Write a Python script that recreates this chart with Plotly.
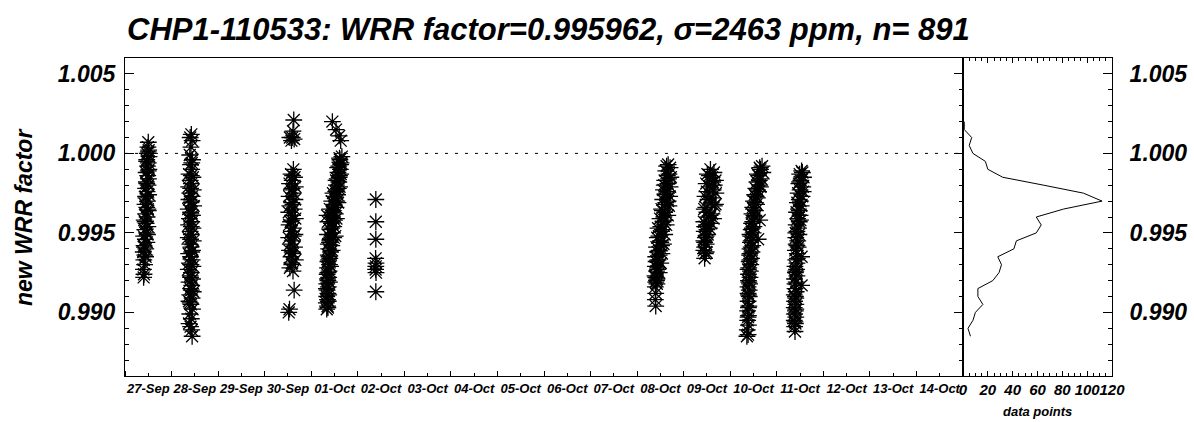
import plotly.graph_objects as go
from datetime import datetime, timedelta

# ---------------- data ----------------
title_text = "CHP1-110533: WRR factor=0.995962, \u03c3=2463 ppm, n= 891"

day_dates = ["2010-09-27", "2010-09-28", "2010-09-30", "2010-10-01", "2010-10-02",
             "2010-10-08", "2010-10-09", "2010-10-10", "2010-10-11"]

# hour of day, WRR factor for each measuring day
sep27_hours = [12.0, 11.8, 12.2, 11.5, 12.4, 11.2, 12.0, 11.6, 12.3, 10.9, 11.7, 12.1, 11.0, 11.9,
               10.6, 11.4, 12.2, 10.8, 11.6, 10.3, 11.2, 12.0, 10.6, 11.4, 9.9, 10.9, 11.8, 10.2,
               11.1, 9.6, 10.5, 11.3, 9.8, 10.7, 9.4, 10.2, 9.7, 10.1, 9.5, 9.8, 9.6,
               12.0, 11.2, 12.0, 11.2, 10.6, 11.8, 10.4, 11.6, 10.0, 10.6]
sep27_values = [1.0007, 1.0004, 1.0002, 1.0000, 0.9998, 0.9996, 0.9994, 0.9992, 0.9990, 0.9988,
                0.9986, 0.9984, 0.9982, 0.9980, 0.9978, 0.9976, 0.9974, 0.9972, 0.9970, 0.9968,
                0.9966, 0.9964, 0.9962, 0.9960, 0.9958, 0.9956, 0.9954, 0.9952, 0.9950, 0.9948,
                0.9946, 0.9944, 0.9942, 0.9940, 0.9938, 0.9936, 0.9933, 0.9930, 0.9927, 0.9924,
                0.9922,
                1.0001, 0.9995, 0.9989, 0.9981, 0.9973, 0.9965, 0.9957, 0.9949, 0.9941, 0.9935]

sep28_hours = [10.2, 9.6, 10.6, 10.0, 9.4, 10.8, 9.8, 10.4, 9.0, 11.0, 9.6, 10.2, 8.8, 11.2, 9.4,
               10.6, 9.0, 10.0, 11.4, 8.6, 9.8, 10.8, 9.2, 10.4, 8.8, 11.0, 9.6, 10.2, 8.6, 11.2,
               9.4, 10.0, 10.8, 8.8, 9.8, 10.6, 9.2, 11.0, 8.6, 10.2, 9.6, 10.8, 9.0, 10.4, 9.8,
               11.2, 9.4, 10.6, 9.0, 10.0, 10.8, 9.4, 10.2, 9.0, 9.8, 10.4, 10.6,
               10.4, 10.2, 9.8, 10.4, 10.0, 10.2, 9.8, 10.4, 10.0, 9.8, 10.2, 9.6]
sep28_values = [1.0012, 1.0010, 1.0008, 1.0004, 0.9999, 0.9996, 0.9993, 0.9990, 0.9987, 0.9985,
                0.9983, 0.9981, 0.9979, 0.9977, 0.9975, 0.9973, 0.9971, 0.9969, 0.9967, 0.9965,
                0.9963, 0.9961, 0.9959, 0.9957, 0.9955, 0.9953, 0.9951, 0.9949, 0.9947, 0.9945,
                0.9943, 0.9941, 0.9939, 0.9937, 0.9935, 0.9933, 0.9931, 0.9929, 0.9927, 0.9925,
                0.9923, 0.9921, 0.9919, 0.9917, 0.9915, 0.9913, 0.9911, 0.9909, 0.9907, 0.9905,
                0.9902, 0.9899, 0.9896, 0.9893, 0.9891, 0.9889, 0.9885,
                0.9994, 0.9986, 0.9978, 0.9970, 0.9962, 0.9954, 0.9946, 0.9938, 0.9930, 0.9922,
                0.9914, 0.9906]

sep30_hours = [15.0, 14.6, 13.0, 14.2, 15.2, 13.8, 14.8, 13.6, 15.4, 14.2, 12.8, 15.8, 13.8, 14.8,
               12.6, 15.6, 14.0, 13.0, 15.2, 12.4, 14.4, 15.8, 13.4, 12.6, 14.8, 13.8, 15.6, 12.4,
               14.2, 13.2, 15.4, 12.8, 14.6, 13.6, 15.8, 14.0, 13.0, 14.6, 15.2, 12.8, 12.4,
               14.4, 14.2, 14.6, 14.0, 14.8, 14.2, 14.0]
sep30_values = [1.0021, 1.0014, 1.0010, 1.0010, 1.0009, 1.0008, 0.9990, 0.9987, 0.9985, 0.9983,
                0.9981, 0.9979, 0.9977, 0.9975, 0.9973, 0.9971, 0.9969, 0.9967, 0.9965, 0.9963,
                0.9961, 0.9959, 0.9957, 0.9955, 0.9953, 0.9951, 0.9949, 0.9947, 0.9945, 0.9943,
                0.9941, 0.9939, 0.9937, 0.9935, 0.9933, 0.9931, 0.9928, 0.9926, 0.9914, 0.9902,
                0.9900,
                0.9986, 0.9978, 0.9968, 0.9958, 0.9948, 0.9938, 0.9930]

oct01_hours = [15.8, 14.8, 15.4, 14.2, 15.0, 13.8, 14.6, 13.4, 14.2, 13.0, 14.0, 12.6, 13.6, 12.4,
               13.2, 11.8, 12.8, 11.4, 12.4, 11.0, 12.0, 10.4, 11.6, 9.8, 11.0, 12.4, 10.2, 9.4,
               10.6, 9.0, 10.0, 8.8, 9.6, 8.6, 9.4, 8.4, 9.2, 8.2, 9.0, 8.6, 8.0, 8.8, 8.2, 8.6,
               8.0, 8.4, 7.8, 8.4, 8.0, 10.9, 12.8, 14.4, 15.2, 8.2, 8.6, 8.4, 9.6, 10.6, 11.2,
               15.2, 14.4, 13.2, 12.0, 10.8, 9.8, 9.0, 8.4,
               14.6, 13.6, 15.2, 12.8, 14.6, 11.8, 13.8, 10.8, 13.0, 10.6, 11.6, 8.8, 10.8, 9.2,
               10.0, 8.6, 9.4, 7.8, 9.0, 8.8, 8.6]
oct01_values = [0.9998, 0.9996, 0.9994, 0.9992, 0.9990, 0.9988, 0.9986, 0.9984, 0.9982, 0.9980,
                0.9978, 0.9976, 0.9974, 0.9972, 0.9970, 0.9968, 0.9966, 0.9964, 0.9962, 0.9960,
                0.9958, 0.9956, 0.9954, 0.9952, 0.9950, 0.9948, 0.9946, 0.9944, 0.9942, 0.9940,
                0.9938, 0.9936, 0.9934, 0.9932, 0.9930, 0.9928, 0.9926, 0.9924, 0.9922, 0.9920,
                0.9918, 0.9916, 0.9914, 0.9912, 0.9910, 0.9908, 0.9906, 0.9904, 0.9902, 1.0020,
                1.0015, 1.0011, 1.0008, 0.9961, 0.9957, 0.9949, 0.9965, 0.9970, 0.9975,
                0.9993, 0.9985, 0.9977, 0.9967, 0.9957, 0.9945, 0.9933, 0.9921,
                0.9997, 0.9991, 0.9987, 0.9983, 0.9979, 0.9973, 0.9969, 0.9963, 0.9959, 0.9953,
                0.9947, 0.9943, 0.9939, 0.9935, 0.9929, 0.9925, 0.9919, 0.9915, 0.9911, 0.9907,
                0.9903]

oct02_hours = [9.3, 9.3, 9.3, 9.2, 9.4, 9.3, 9.2, 9.4, 9.3]
oct02_values = [0.9971, 0.9957, 0.9946, 0.9934, 0.9931, 0.9929, 0.9927, 0.9925, 0.9913]

oct08_hours = [16.0, 17.0, 14.8, 16.4, 17.4, 14.2, 15.8, 17.0, 13.6, 15.2, 16.8, 13.2, 14.8, 16.4,
               12.6, 14.2, 15.8, 11.8, 13.4, 15.0, 10.8, 12.6, 14.2, 10.4, 12.0, 13.6, 10.0, 11.4,
               12.8, 9.6, 10.8, 12.2, 9.4, 10.6, 11.4, 9.2, 10.2, 9.6, 9.4, 9.6, 9.4, 9.6,
               16.2, 15.4, 14.6, 13.8, 13.0, 12.2, 11.4, 10.6, 10.0,
               15.2, 15.6, 14.0, 14.4, 16.0, 13.0, 14.4, 12.2, 11.2, 12.6, 10.6, 9.8, 10.0, 9.6,
               10.2]
oct08_values = [0.9993, 0.9991, 0.9989, 0.9987, 0.9985, 0.9983, 0.9981, 0.9979, 0.9977, 0.9975,
                0.9973, 0.9971, 0.9969, 0.9967, 0.9965, 0.9963, 0.9961, 0.9959, 0.9957, 0.9955,
                0.9953, 0.9951, 0.9949, 0.9947, 0.9945, 0.9943, 0.9941, 0.9939, 0.9937, 0.9935,
                0.9933, 0.9931, 0.9929, 0.9927, 0.9925, 0.9923, 0.9921, 0.9919, 0.9916, 0.9912,
                0.9908, 0.9904,
                0.9984, 0.9976, 0.9968, 0.9960, 0.9952, 0.9944, 0.9936, 0.9928, 0.9920,
                0.9992, 0.9986, 0.9980, 0.9974, 0.9970, 0.9964, 0.9958, 0.9954, 0.9948, 0.9942,
                0.9938, 0.9932, 0.9926, 0.9922, 0.9918]

oct09_hours = [13.8, 15.6, 12.2, 14.6, 16.4, 11.6, 13.2, 15.2, 16.6, 11.0, 12.6, 14.2, 15.8, 10.6,
               12.0, 13.6, 15.4, 10.4, 11.8, 13.2, 10.6, 12.4, 11.2, 10.4, 11.6, 10.8, 10.4, 11.2,
               10.8, 15.8, 16.4, 14.6, 14.2, 12.0,
               13.2, 15.0, 12.0, 14.8, 11.4, 12.8, 10.8, 11.6, 10.8, 11.6]
oct09_values = [0.9990, 0.9988, 0.9987, 0.9985, 0.9983, 0.9981, 0.9979, 0.9977, 0.9975, 0.9973,
                0.9971, 0.9969, 0.9967, 0.9965, 0.9963, 0.9961, 0.9959, 0.9957, 0.9955, 0.9953,
                0.9951, 0.9949, 0.9947, 0.9945, 0.9943, 0.9941, 0.9939, 0.9937, 0.9934, 0.9980,
                0.9968, 0.9962, 0.9956, 0.9952,
                0.9986, 0.9982, 0.9976, 0.9972, 0.9966, 0.9960, 0.9954, 0.9948, 0.9944, 0.9938]

oct10_hours = [16.4, 15.6, 16.8, 14.6, 16.0, 13.8, 15.2, 13.2, 14.6, 12.6, 14.0, 12.0, 13.6, 11.6,
               13.0, 11.2, 12.6, 15.2, 11.0, 12.2, 10.8, 11.8, 10.6, 14.4, 10.4, 11.6, 10.2, 11.2,
               10.0, 11.0, 9.8, 10.6, 9.6, 10.4, 9.4, 10.2, 9.4, 10.0, 9.2, 9.8, 9.2, 9.8, 9.2,
               9.6, 9.0, 9.4, 9.0, 9.4, 8.8, 9.2, 8.6,
               15.0, 14.0, 13.0, 12.2, 11.4, 10.8, 10.2,
               15.2, 14.0, 15.6, 13.2, 12.0, 11.6, 10.2, 10.8, 10.2, 9.2, 9.6, 9.4, 9.4, 9.2]
oct10_values = [0.9992, 0.9990, 0.9988, 0.9986, 0.9984, 0.9982, 0.9980, 0.9978, 0.9976, 0.9974,
                0.9972, 0.9970, 0.9968, 0.9966, 0.9964, 0.9962, 0.9960, 0.9958, 0.9956, 0.9954,
                0.9952, 0.9950, 0.9948, 0.9946, 0.9944, 0.9942, 0.9940, 0.9938, 0.9936, 0.9934,
                0.9932, 0.9930, 0.9928, 0.9926, 0.9924, 0.9922, 0.9920, 0.9918, 0.9916, 0.9914,
                0.9912, 0.9910, 0.9907, 0.9904, 0.9901, 0.9898, 0.9895, 0.9892, 0.9889, 0.9886,
                0.9885,
                0.9983, 0.9977, 0.9969, 0.9961, 0.9953, 0.9945, 0.9937,
                0.9991, 0.9987, 0.9979, 0.9973, 0.9965, 0.9957, 0.9949, 0.9941, 0.9933, 0.9927,
                0.9919, 0.9911, 0.9903, 0.9897]

oct11_hours = [12.8, 11.8, 13.8, 12.4, 11.4, 13.4, 12.0, 11.0, 13.0, 11.6, 10.6, 12.6, 11.2, 10.2,
               12.0, 10.8, 11.6, 10.0, 11.2, 10.4, 11.4, 9.8, 10.8, 10.0, 11.0, 9.6, 10.6, 12.8,
               9.8, 10.4, 9.4, 10.2, 9.6, 10.4, 9.2, 10.0, 12.8, 9.4, 10.0, 9.0, 9.8, 9.2, 9.8,
               9.0, 9.6, 9.2, 9.8, 9.0, 9.6, 9.2, 9.4,
               13.2, 11.8, 13.6, 12.2, 11.6, 12.2, 9.8, 10.4, 10.6, 9.8, 9.4, 9.6, 9.8, 9.4]
oct11_values = [0.9989, 0.9987, 0.9985, 0.9983, 0.9981, 0.9979, 0.9977, 0.9975, 0.9973, 0.9971,
                0.9969, 0.9967, 0.9965, 0.9963, 0.9961, 0.9959, 0.9957, 0.9955, 0.9953, 0.9951,
                0.9949, 0.9947, 0.9945, 0.9943, 0.9941, 0.9939, 0.9937, 0.9935, 0.9933, 0.9931,
                0.9929, 0.9927, 0.9925, 0.9923, 0.9921, 0.9919, 0.9917, 0.9915, 0.9913, 0.9911,
                0.9909, 0.9907, 0.9905, 0.9903, 0.9901, 0.9899, 0.9897, 0.9895, 0.9893, 0.9891,
                0.9888,
                0.9988, 0.9982, 0.9976, 0.9970, 0.9964, 0.9958, 0.9950, 0.9942, 0.9934, 0.9926,
                0.9918, 0.9910, 0.9902, 0.9894]

# histogram of the right panel (bin centre, number of data points)
hist_bins = [1.0020, 1.0015, 1.0010, 1.0005, 1.0000, 0.9995, 0.9990, 0.9985, 0.9980, 0.9975,
             0.9970, 0.9965, 0.9960, 0.9955, 0.9950, 0.9945, 0.9940, 0.9935, 0.9930, 0.9925,
             0.9920, 0.9915, 0.9910, 0.9905, 0.9900, 0.9895, 0.9890, 0.9885]
hist_counts = [1, 1, 7, 5, 8, 18, 20, 32, 65, 97, 112, 81, 59, 63, 59, 43, 41, 28, 31, 29,
               24, 12, 12, 16, 10, 8, 4, 6]

y_ticks = [0.990, 0.995, 1.000, 1.005]
hist_ticks = [0, 20, 40, 60, 80, 100, 120]
reference_level = 1.000

# ---------------- build ----------------
all_hours = [sep27_hours, sep28_hours, sep30_hours, oct01_hours, oct02_hours,
             oct08_hours, oct09_hours, oct10_hours, oct11_hours]
all_values = [sep27_values, sep28_values, sep30_values, oct01_values, oct02_values,
              oct08_values, oct09_values, oct10_values, oct11_values]

xs, ys = [], []
for d, hrs, vals in zip(day_dates, all_hours, all_values):
    base = datetime.strptime(d, "%Y-%m-%d")
    for h, v in zip(hrs, vals):
        xs.append(base + timedelta(hours=h))
        ys.append(v)

W, H = 1194, 422
L, R1, R2 = 125, 963, 1112
TOP, BOT = 58, 376
FONT = "Liberation Sans, Arial, Helvetica, sans-serif"

def bf(size):
    return dict(family=FONT, size=size, color="black", weight="bold", style="italic")

fig = go.Figure()
fig.add_trace(go.Scatter(
    x=xs, y=ys, mode="markers", xaxis="x", yaxis="y",
    marker=dict(symbol="asterisk-open", size=14, color="black",
                line=dict(width=1.3, color="black")),
    showlegend=False, hoverinfo="skip"))
fig.add_trace(go.Scatter(
    x=hist_counts, y=hist_bins, mode="lines", xaxis="x2", yaxis="y2",
    line=dict(color="black", width=1), showlegend=False, hoverinfo="skip"))

x_start, x_end = "2010-09-27", "2010-10-15"
ydom = [1 - BOT / H, 1 - TOP / H]
yrange = [0.986, 1.006]

fig.update_layout(
    width=W, height=H,
    margin=dict(l=0, r=0, t=0, b=0, autoexpand=False),
    paper_bgcolor="white", plot_bgcolor="white",
    xaxis=dict(domain=[L / W, R1 / W], anchor="y", type="date", automargin=False,
               range=[x_start, x_end], tickmode="linear", tick0=x_start,
               dtick=86400000, tickformat="%d-%b", ticklabelmode="period",
               ticks="inside", ticklen=5, tickcolor="black", tickwidth=1,
               showline=True, linecolor="black", linewidth=1, mirror=True,
               showgrid=False, zeroline=False, tickfont=bf(13), tickangle=0,
               minor=dict(dtick=43200000, ticks="inside", ticklen=3,
                          tickcolor="black", showgrid=False)),
    yaxis=dict(domain=ydom, anchor="x", range=yrange, automargin=False,
               tickmode="array", tickvals=y_ticks, tickformat=".3f",
               ticks="inside", ticklen=9, tickcolor="black",
               showline=True, linecolor="black", linewidth=1, mirror="ticks",
               showgrid=False, zeroline=False, tickfont=bf(23),
               ticklabelstandoff=4,
               minor=dict(dtick=0.001, tick0=0.986, ticks="inside", ticklen=4,
                          tickcolor="black", showgrid=False)),
    xaxis2=dict(domain=[R1 / W, R2 / W], anchor="y2", range=[0, 120], automargin=False,
                tickmode="array", tickvals=hist_ticks, tickangle=0,
                ticks="inside", ticklen=5, tickcolor="black",
                showline=True, linecolor="black", linewidth=1, mirror="ticks",
                showgrid=False, zeroline=False, tickfont=bf(15),
                minor=dict(dtick=5, tick0=0, ticks="inside", ticklen=3,
                           tickcolor="black", showgrid=False)),
    yaxis2=dict(domain=ydom, anchor="x2", range=yrange, side="right", automargin=False,
                tickmode="array", tickvals=y_ticks, tickformat=".3f",
                ticks="inside", ticklen=9, tickcolor="black",
                showline=True, linecolor="black", linewidth=1, mirror=True,
                showgrid=False, zeroline=False, tickfont=bf(23),
                ticklabelstandoff=12,
                minor=dict(dtick=0.001, tick0=0.986, ticks="inside", ticklen=4,
                           tickcolor="black", showgrid=False)),
    shapes=[dict(type="line", xref="x", yref="y", x0=x_start, x1=x_end,
                 y0=reference_level, y1=reference_level,
                 line=dict(color="black", width=1, dash="3px,7px"))],
    annotations=[
        dict(text=title_text, xref="paper", yref="paper", x=548 / W, y=1 - 30 / H,
             xanchor="center", yanchor="middle", showarrow=False, font=bf(31)),
        dict(text="new WRR factor", xref="paper", yref="paper", x=24 / W, y=1 - 218 / H,
             xanchor="center", yanchor="middle", textangle=-90, showarrow=False,
             font=bf(23)),
        dict(text="data points", xref="paper", yref="paper", x=1037 / W, y=1 - 411 / H,
             xanchor="center", yanchor="middle", showarrow=False, font=bf(13)),
    ],
)

fig.write_html("out.html", config={"displayModeBar": False, "staticPlot": True},
               post_script="document.body.style.margin='0';document.body.style.overflow='hidden';")
